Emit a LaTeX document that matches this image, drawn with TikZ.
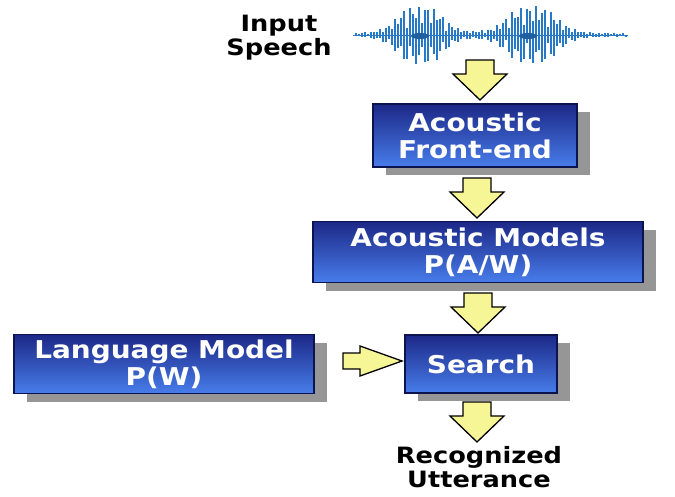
\documentclass[tikz,border=0pt]{standalone}
\usepackage{fontspec}
\newfontfamily\labelfont{DejaVu Sans}[FakeStretch=1.14]
\usetikzlibrary{calc,shadows}

\definecolor{boxtop}{RGB}{28,40,135}
\definecolor{boxbottom}{RGB}{72,125,235}
\definecolor{boxedge}{RGB}{12,20,80}
\definecolor{shadowgray}{RGB}{150,150,150}
\definecolor{arrowfill}{RGB}{246,246,150}
\definecolor{wavecolor}{RGB}{40,120,200}

% hollow block arrows pointing down / right, centred on a named coordinate
\newcommand\downblock[1]{\draw[blockarrow] (#1) ++(-14,-20) -- ++(28,0) -- ++(0,14)
  -- ++(13,0) -- ++(-27,26) -- ++(-27,-26) -- ++(13,0) -- cycle;}
\newcommand\rightblock[1]{\draw[blockarrow] (#1) ++(-29,-8) -- ++(17,0) -- ++(0,-7)
  -- ++(42,15) -- ++(-42,15) -- ++(0,-7) -- ++(-17,0) -- cycle;}

\begin{document}
\begin{tikzpicture}[x=1pt,y=-1pt,
  stagebox/.style={draw=boxedge, line width=1.2pt, top color=boxtop, bottom color=boxbottom,
    text=white, font=\labelfont\bfseries\fontsize{24.5}{27}\selectfont, align=center,
    inner sep=0pt,
    drop shadow={shadow xshift=13pt, shadow yshift=-8pt, fill=shadowgray, opacity=1}},
  plainlabel/.style={text=black, font=\labelfont\bfseries\fontsize{22.5}{24}\selectfont,
    align=center, inner sep=0pt},
  blockarrow/.style={draw=black, line width=1.3pt, fill=arrowfill, line join=miter},
  wavebar/.style={draw=wavecolor, line width=1.3pt}]

\useasboundingbox (0,0) rectangle (675,496);
\fill[white] (0,0) rectangle (675,496);

% input label and speech waveform
\node[plainlabel] (input) at (279,38) {Input\\Speech};
\draw[wavecolor, line width=1pt] (353,35) -- (628,35);
\foreach \x in {356,359,...,626} {
  \pgfmathsetmacro\envA{1/(1+((\x-420)/26)^4)}
  \pgfmathsetmacro\envB{1/(1+((\x-532)/28)^4)}
  \pgfmathsetmacro\amp{1.5+27*(\envA+\envB)}
  \pgfmathsetmacro\up{\amp*(0.25+0.75*abs(sin(\x*23)))}
  \pgfmathsetmacro\dn{\amp*(0.25+0.75*abs(sin(\x*17+40)))}
  \draw[wavebar] (\x,35-\up) -- (\x,35+\dn);
}
\fill[wavecolor!80!black] (420,36) ellipse (9 and 3);
\fill[wavecolor!80!black] (528,36) ellipse (9 and 3);

% processing stages
\node[stagebox, minimum width=204pt, minimum height=63pt] (fe) at (475,135.5) {Acoustic\\Front-end};
\node[stagebox, minimum width=330pt, minimum height=61pt] (am) at (478,252) {Acoustic Models\\P(A/W)};
\node[stagebox, minimum width=300pt, minimum height=59pt] (lm) at (164,364) {Language Model\\P(W)};
\node[stagebox, minimum width=152pt, minimum height=58pt] (se) at (481,364) {Search};
\node[plainlabel] (out) at (479,467) {Recognized\\Utterance};

% arrow positions
\coordinate (a1) at (480,80);
\coordinate (a2) at (477,198);
\coordinate (a3) at (478,313);
\coordinate (a4) at (477,422);
\coordinate (ar) at (372,361);

\downblock{a1}
\downblock{a2}
\downblock{a3}
\downblock{a4}
\rightblock{ar}
\end{tikzpicture}
\end{document}
